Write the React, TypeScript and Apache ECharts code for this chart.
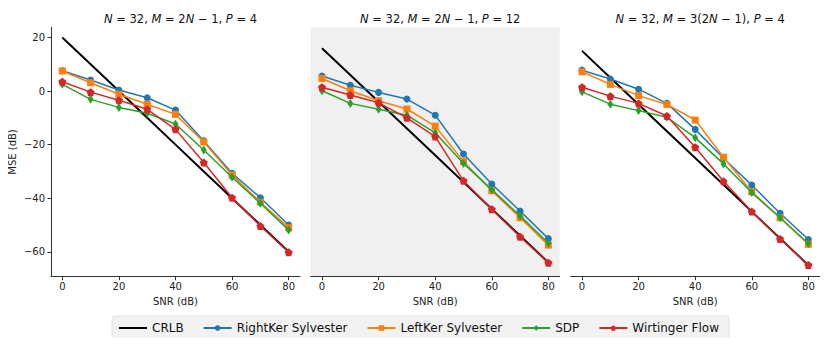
import React, { useEffect, useRef } from "react";
import * as echarts from "echarts";

const snr = [0, 10, 20, 30, 40, 50, 60, 70, 80];
const seriesNames = ["CRLB", "RightKer Sylvester", "LeftKer Sylvester", "SDP", "Wirtinger Flow"];
const colors = ["#000000", "#1f77b4", "#ff7f0e", "#2ca02c", "#d62728"];
const yTicks = [-60, -40, -20, 0, 20];
const xTicks = [0, 20, 40, 60, 80];

// Panel 1: N=32, M=2N-1, P=4
const p1Crlb = [20, 10, 0, -10, -20, -30, -40, -50, -60];
const p1Right = [7.6, 4.1, 0.4, -2.5, -7.1, -18.6, -30.7, -39.8, -50.0];
const p1Left = [7.5, 3.1, -1.2, -4.9, -8.7, -19.0, -31.3, -41.5, -51.0];
const p1Sdp = [2.5, -3.1, -6.1, -8.3, -12.3, -22.0, -32.2, -41.9, -51.9];
const p1Wf = [3.5, -0.4, -3.4, -6.8, -14.3, -26.7, -39.8, -50.4, -60.2];

// Panel 2: N=32, M=2N-1, P=12
const p2Crlb = [16, 6, -4, -14, -24, -34, -44, -54, -64];
const p2Right = [5.6, 2.2, -0.5, -3.0, -9.0, -23.5, -34.7, -44.8, -55.1];
const p2Left = [4.7, 0.1, -3.6, -6.7, -13.1, -26.3, -37.2, -47.3, -57.5];
const p2Sdp = [0.1, -4.6, -6.8, -9.0, -15.6, -27.0, -36.8, -46.6, -56.8];
const p2Wf = [1.4, -1.5, -4.4, -10.0, -17.0, -33.5, -44.1, -54.4, -64.1];

// Panel 3: N=32, M=3(2N-1), P=4
const p3Crlb = [15, 5, -5, -15, -25, -35, -45, -55, -65];
const p3Right = [7.8, 4.5, 0.7, -4.6, -14.3, -25.1, -35.1, -45.6, -55.4];
const p3Left = [7.2, 2.5, -1.7, -5.0, -10.8, -24.7, -37.6, -47.3, -57.2];
const p3Sdp = [-0.3, -4.9, -7.3, -9.8, -17.4, -27.2, -37.9, -47.3, -56.9];
const p3Wf = [1.4, -1.9, -4.6, -9.3, -21.0, -33.7, -45.0, -55.2, -64.9];

const panels = [
  [p1Crlb, p1Right, p1Left, p1Sdp, p1Wf],
  [p2Crlb, p2Right, p2Left, p2Sdp, p2Wf],
  [p3Crlb, p3Right, p3Left, p3Sdp, p3Wf],
];

const titles = [
  "{i|N} = 32, {i|M} = 2{i|N} − 1, {i|P} = 4",
  "{i|N} = 32, {i|M} = 2{i|N} − 1, {i|P} = 12",
  "{i|N} = 32, {i|M} = 3(2{i|N} − 1), {i|P} = 4",
];

const FONT = "DejaVu Sans";
const thinDiamond = "path://M0,-1 L0.6,0 L0,1 L-0.6,0 Z";
const pentagon =
  "path://M0,-1 L0.951,-0.309 L0.588,0.809 L-0.588,0.809 L-0.951,-0.309 Z";
const symbols = ["none", "circle", "rect", thinDiamond, pentagon];
const symbolSizes: any[] = [0, 7, 7, [6, 9], 8];

export default function App() {
  const ref = useRef<HTMLDivElement>(null);
  useEffect(() => {
    if (!ref.current) return;
    const chart = echarts.init(ref.current, undefined, { renderer: "svg" });
    const gridLefts = [51, 310.7, 570.7];
    const gridW = 249;
    const grids = gridLefts.map((l, i) => ({
      left: l,
      width: gridW,
      top: 27.3,
      height: 249.4,
      show: i === 1,
      backgroundColor: "#f0f0f0",
      borderWidth: 0,
    }));
    const xAxes = gridLefts.map((_, i) => ({
      type: "value",
      gridIndex: i,
      min: -4,
      max: 84,
      splitLine: { show: false },
      axisLine: { show: true, onZero: false, lineStyle: { color: "#333", width: 1 } },
      axisTick: { show: true, customValues: xTicks, length: 3.5, lineStyle: { color: "#333" } },
      axisLabel: { customValues: xTicks, color: "#222", fontFamily: FONT, fontSize: 10, margin: 5 },
      name: "SNR (dB)",
      nameLocation: "middle",
      nameGap: 18,
      nameTextStyle: { color: "#222", fontFamily: FONT, fontSize: 10 },
    }));
    const yAxes = gridLefts.map((_, i) => ({
      type: "value",
      gridIndex: i,
      min: -69.3,
      max: 23.8,
      splitLine: { show: false },
      axisLine: { show: i === 0, onZero: false, lineStyle: { color: "#333", width: 1 } },
      axisTick: { show: i === 0, customValues: yTicks, length: 3.5, lineStyle: { color: "#333" } },
      axisLabel: {
        show: i === 0,
        customValues: yTicks,
        color: "#222",
        fontFamily: FONT,
        fontSize: 10,
        margin: 6,
        formatter: (v: number) => String(v).replace("-", "\u2212"),
      },
      name: i === 0 ? "MSE (dB)" : "",
      nameLocation: "middle",
      nameGap: 34,
      nameTextStyle: { color: "#222", fontFamily: FONT, fontSize: 10 },
    }));
    const series: any[] = [];
    panels.forEach((arrs, gi) => {
      arrs.forEach((vals, si) => {
        series.push({
          type: "line",
          name: seriesNames[si],
          xAxisIndex: gi,
          yAxisIndex: gi,
          data: snr.map((x, k) => [x, vals[k]]),
          symbol: symbols[si],
          symbolSize: symbolSizes[si],
          showSymbol: si !== 0,
          color: colors[si],
          lineStyle: { width: si === 0 ? 2 : 1.5, color: colors[si] },
          itemStyle: { color: colors[si] },
          z: 2 + si,
          emphasis: { disabled: true },
        });
      });
    });
    const titleOpts = titles.map((t, i) => ({
      text: t,
      left: gridLefts[i] + gridW / 2,
      textAlign: "center",
      top: 8,
      textStyle: {
        fontFamily: FONT,
        fontSize: 11.5,
        fontWeight: "normal",
        color: "#111",
        rich: { i: { fontStyle: "italic", fontFamily: FONT, fontSize: 11.5, color: "#111" } },
      },
    }));
    const legendData = seriesNames.map((n, i) =>
      i === 0 ? { name: n, itemStyle: { opacity: 0 } } : { name: n }
    );
    chart.setOption({
      animation: false,
      backgroundColor: "#ffffff",
      title: titleOpts,
      grid: grids,
      xAxis: xAxes,
      yAxis: yAxes,
      legend: {
        data: legendData,
        left: 112,
        top: 316,
        orient: "horizontal",
        backgroundColor: "#f2f2f2",
        borderColor: "#e2e2e2",
        borderWidth: 1,
        borderRadius: 3,
        padding: [6, 10, 6, 6],
        itemWidth: 28,
        itemHeight: 7,
        itemGap: 19,
        textStyle: { fontFamily: FONT, fontSize: 12, color: "#111" },
      },
      series,
    });
    return () => chart.dispose();
  }, []);
  return <div ref={ref} style={{ width: 830, height: 346, margin: -8 }} />;
}
